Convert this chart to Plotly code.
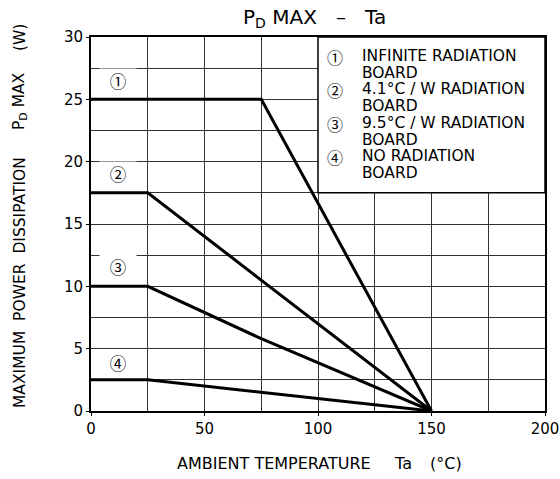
import plotly.graph_objects as go

# Data
curve1_x = [0, 25, 75, 150]
curve1_y = [25, 25, 25, 0]
curve2_x = [0, 25, 150]
curve2_y = [17.5, 17.5, 0]
curve3_x = [0, 25, 75, 150]
curve3_y = [10, 10, 5.8, 0]
curve4_x = [0, 25, 150]
curve4_y = [2.5, 2.5, 0]

label_marks = ["①", "②", "③", "④"]
label_x = [12, 12, 12, 12]
label_y = [26.5, 19.0, 11.55, 3.85]

legend_marks = ["①", "②", "③", "④"]
legend_names = ["INFINITE RADIATION", "4.1°C / W RADIATION",
                "9.5°C / W RADIATION", "NO RADIATION"]
legend_second = ["BOARD", "BOARD", "BOARD", "BOARD"]

FONT = "DejaVu Sans, Noto Sans CJK JP"
MARKFONT = "Noto Sans CJK JP, DejaVu Sans"

W, H = 560, 479
PL, PT, PW, PH = 91, 37, 454, 374


def px_x(px):
    return (px - PL) / PW


def px_y(py):
    return (PT + PH - py) / PH


fig = go.Figure()
for xs, ys in [(curve1_x, curve1_y), (curve2_x, curve2_y),
               (curve3_x, curve3_y), (curve4_x, curve4_y)]:
    fig.add_trace(go.Scatter(x=xs, y=ys, mode="lines",
                             line=dict(color="black", width=3),
                             showlegend=False, hoverinfo="skip"))

# legend box (white, covers grid)
fig.add_shape(type="rect", xref="x", yref="y", x0=100, x1=200, y0=17.5, y1=30,
              fillcolor="white", line=dict(color="black", width=1.5), layer="above")

# curve labels with white background breaking gridlines
for m, xv, yv in zip(label_marks, label_x, label_y):
    fig.add_annotation(x=xv, y=yv, xref="x", yref="y", text=m, showarrow=False,
                       font=dict(family=MARKFONT, size=16.5, color="black"),
                       bgcolor="white", borderpad=0, width=36)

# legend text: one block for the marks, one for the names (tight line spacing)
STEP = 16.7
base = STEP / 1.3
big = 15.5
mark_lines = []
text_lines = []
for m, n, b in zip(legend_marks, legend_names, legend_second):
    mark_lines += [f'<span style="font-size:16px">{m}</span>', "&nbsp;"]
    text_lines += [f'<span style="font-size:{big}px">{n}</span>',
                   f'<span style="font-size:{big}px">{b}</span>']
row0 = 56.5
nrows = len(text_lines)
center_y = row0 + (nrows - 1) * STEP / 2
fig.add_annotation(x=px_x(335), y=px_y(center_y), xref="paper", yref="paper",
                   text="<br>".join(mark_lines), showarrow=False,
                   xanchor="center", yanchor="middle", align="center",
                   font=dict(family=MARKFONT, size=base, color="black"))
fig.add_annotation(x=px_x(360), y=px_y(center_y), xref="paper", yref="paper",
                   text="<br>".join(text_lines), showarrow=False,
                   xanchor="left", yanchor="middle", align="left",
                   font=dict(family=FONT, size=base, color="black"))

# title
fig.add_annotation(x=px_x(314), y=px_y(18), xref="paper", yref="paper",
                   text="P<sub>D</sub> MAX   –   Ta", showarrow=False,
                   xanchor="center", yanchor="middle",
                   font=dict(family=FONT, size=20, color="black"))

# x axis title
fig.add_annotation(x=px_x(175), y=px_y(463), xref="paper", yref="paper",
                   text="AMBIENT TEMPERATURE", showarrow=False,
                   xanchor="left", yanchor="middle",
                   font=dict(family=FONT, size=16, color="black"))
fig.add_annotation(x=px_x(403), y=px_y(463), xref="paper", yref="paper",
                   text="Ta", showarrow=False,
                   xanchor="center", yanchor="middle",
                   font=dict(family=FONT, size=16, color="black"))
fig.add_annotation(x=px_x(446), y=px_y(463), xref="paper", yref="paper",
                   text="(°C)", showarrow=False,
                   xanchor="center", yanchor="middle",
                   font=dict(family=FONT, size=16, color="black"))

# y axis title pieces (rotated)
for txt, cy in [("MAXIMUM  POWER  DISSIPATION", 283),
                ("P<sub>D</sub> MAX", 101),
                ("(W)", 38)]:
    fig.add_annotation(x=px_x(20), y=px_y(cy), xref="paper", yref="paper",
                       text=txt, textangle=-90, showarrow=False,
                       xanchor="center", yanchor="middle",
                       font=dict(family=FONT, size=15.5, color="black"))

axis_common = dict(showgrid=True, gridcolor="#333", gridwidth=1,
                   showline=True, linecolor="black", linewidth=2, mirror=True,
                   ticks="outside", ticklen=3, tickcolor="black",
                   tickfont=dict(family=FONT, size=15, color="black"),
                   zeroline=False, fixedrange=True, automargin=False)

fig.update_xaxes(range=[0, 200], tickvals=[0, 50, 100, 150, 200],
                 minor=dict(dtick=25, showgrid=True, gridcolor="#333", gridwidth=1),
                 **axis_common)
fig.update_yaxes(range=[0, 30], tickvals=[0, 5, 10, 15, 20, 25, 30],
                 minor=dict(dtick=2.5, showgrid=True, gridcolor="#333", gridwidth=1),
                 **axis_common)

fig.update_layout(width=W, height=H,
                  margin=dict(l=PL, r=W - PL - PW, t=PT, b=H - PT - PH, pad=0),
                  plot_bgcolor="white", paper_bgcolor="white",
                  showlegend=False)

fig.write_html("out.html", config={"displayModeBar": False},
               post_script="document.body.style.margin='0';document.body.style.overflow='hidden';")
